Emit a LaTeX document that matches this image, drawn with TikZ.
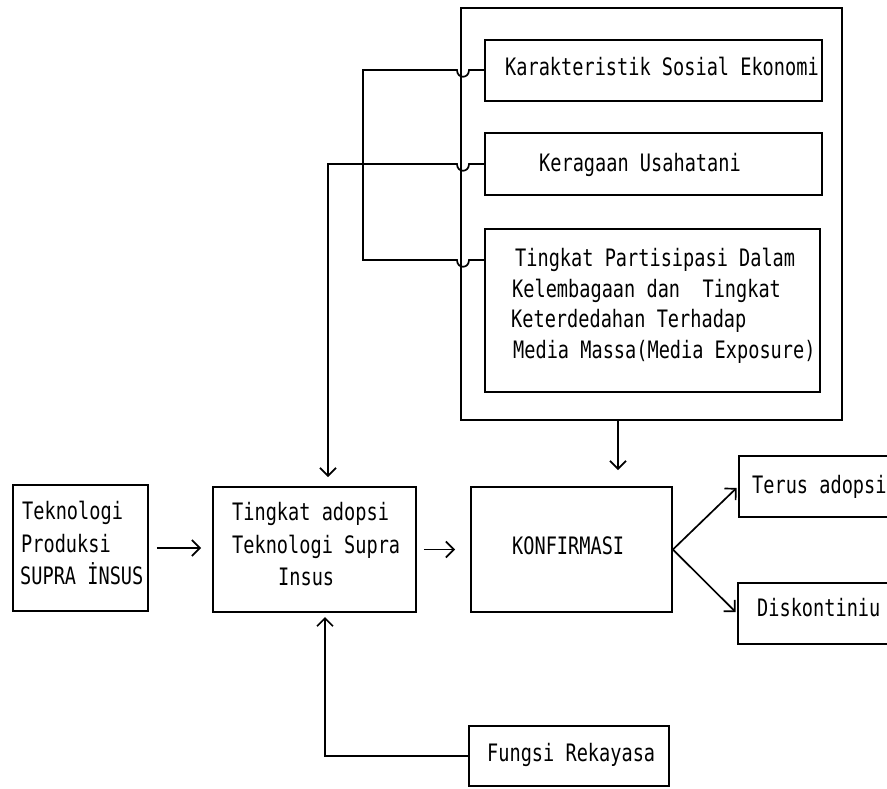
\documentclass[tikz,border=0pt]{standalone}
\usepackage{fontspec}
\newfontfamily\dm[FakeStretch=0.775]{DejaVu Sans Mono}
\usetikzlibrary{arrows.meta}
\begin{document}
\begin{tikzpicture}[x=1pt,y=-1pt,
  box/.style={draw, line width=1.8pt, inner sep=0pt},
  txt/.style={anchor=base west, inner sep=0pt, font=\dm\fontsize{24}{32}\selectfont},
  ln/.style={line width=1.7pt},
  arr/.style={line width=1.7pt, -{Straight Barb[length=8pt,width=16pt,line width=1.7pt]}}]
\useasboundingbox (0,0) rectangle (887,788);
\clip (0,0) rectangle (887,788);
% boxes
\node[box, minimum width=381pt, minimum height=412pt] (outer) at (651.5,214) {};
\node[box, minimum width=337pt, minimum height=61pt] (ks) at (653.5,70.5) {};
\node[box, minimum width=337pt, minimum height=62pt] (ku) at (653.5,164) {};
\node[box, minimum width=335pt, minimum height=163pt] (tp) at (652.5,310.5) {};
\node[box, minimum width=135pt, minimum height=126pt] (tek) at (80.5,548) {};
\node[box, minimum width=203pt, minimum height=125pt] (tin) at (314.5,549.5) {};
\node[box, minimum width=201pt, minimum height=125pt] (konf) at (571.5,549.5) {};
\node[box, minimum width=221pt, minimum height=61pt] (terus) at (849.5,486.5) {};
\node[box, minimum width=222pt, minimum height=61pt] (disk) at (849,613.5) {};
\node[box, minimum width=200pt, minimum height=60pt] (fung) at (569,756) {};
% texts
\node[txt] (t1) at (505,75) {Karakteristik Sosial Ekonomi};
\node[txt] (t2) at (539,171) {Keragaan Usahatani};
\node[txt] (t3a) at (515,266) {Tingkat Partisipasi Dalam};
\node[txt] (t3b) at (512,297) {Kelembagaan dan~ Tingkat};
\node[txt] (t3c) at (511,327) {Keterdedahan Terhadap};
\node[txt] (t3d) at (513,358) {Media Massa(Media Exposure)};
\node[txt] (t4a) at (22,519) {Teknologi};
\node[txt] (t4b) at (21,552) {Produksi};
\node[txt] (t4c) at (20,584) {SUPRA İNSUS};
\node[txt] (t5a) at (232,520) {Tingkat adopsi};
\node[txt] (t5b) at (232,553) {Teknologi Supra};
\node[txt] (t5c) at (278,585) {Insus};
\node[txt] (t6) at (512,554) {KONFIRMASI};
\node[txt] (t7) at (752,493) {Terus adopsi};
\node[txt] (t8) at (757,616) {Diskontiniu};
\node[txt] (t9) at (487,761) {Fungsi Rekayasa};
% helper coordinates
\coordinate (k1) at (485,70);
\coordinate (k3) at (485,260);
\coordinate (tinTop) at (328,487);
\coordinate (tinBot) at (325,612);
\coordinate (konfTop) at (618,487);
% bracket for boxes 1 and 3
\draw[ln] (k1) -- (469,70) .. controls (469,79) and (457,79) .. (457,70) -- (363,70)
  -- (363,260) -- (457,260) .. controls (457,269) and (469,269) .. (469,260) -- (k3);
% box 2 to tingkat adopsi
\draw[arr, shorten >=10pt] (ku.west) -- (469,164) .. controls (469,173) and (457,173) .. (457,164)
  -- (328,164) -- (tinTop);
% horizontal flow
\draw[arr, shorten <=8pt, shorten >=11pt] (tek.east) -- (tek.east -| tin.west);
\draw[arr, shorten <=7pt, shorten >=15pt] (tin.east) -- (tin.east -| konf.west);
% outer box to konfirmasi
\draw[arr, shorten >=17pt] (outer.south -| konfTop) -- (konfTop);
% konfirmasi outputs
\draw[arr, shorten >=2pt] (konf.east) -- (terus.west);
\draw[arr, shorten >=2pt] (konf.east) -- (disk.west);
% fungsi rekayasa
\draw[arr, shorten >=5pt] (fung.west) -| (tinBot);
\end{tikzpicture}
\end{document}
